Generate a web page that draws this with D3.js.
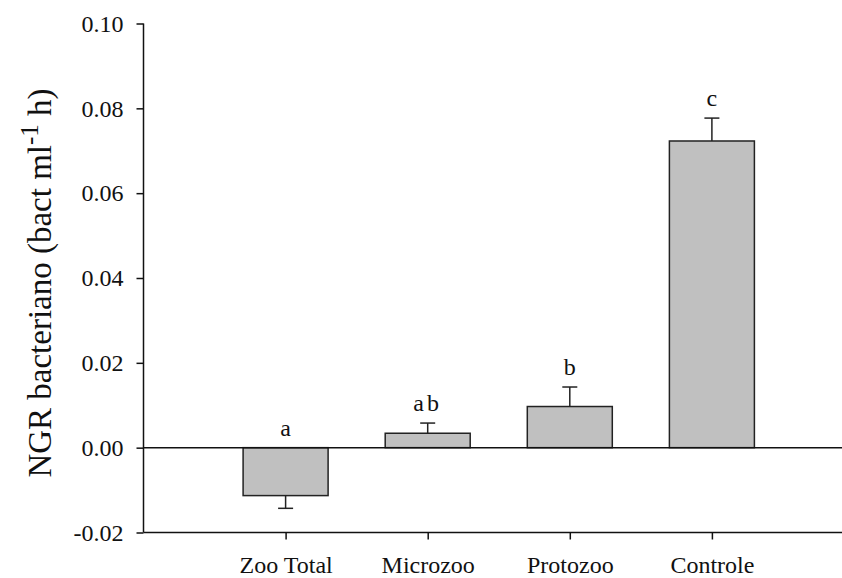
<!DOCTYPE html>
<html>
<head>
<meta charset="utf-8">
<script src="https://cdn.jsdelivr.net/npm/d3@7"></script>
<style>
  body { margin: 0; background: #fff; }
  svg text { font-family: "Liberation Serif", "Times New Roman", serif; fill: #111; }
</style>
</head>
<body>
<div id="chart"></div>
<script>
// NGR bacteriano bar chart

const categories = ["Zoo Total", "Microzoo", "Protozoo", "Controle"];
const values = [-0.0113, 0.0034, 0.0097, 0.0723];
const errors = [0.0030, 0.0024, 0.0046, 0.0054];
const groupLabels = ["a", "ab", "b", "c"];
const yTicks = [-0.02, 0.00, 0.02, 0.04, 0.06, 0.08, 0.10];

const W = 842, H = 578;
const plotLeft = 143.5, plotTop = 23.5, plotBottom = 532.5, plotRight = 854;
const serif = "'Liberation Serif', 'Times New Roman', serif";

const svg = d3.select("#chart").append("svg")
    .attr("width", W)
    .attr("height", H);

const x = d3.scalePoint()
    .domain(categories)
    .range([plotLeft, plotRight])
    .padding(1);

const y = d3.scaleLinear()
    .domain([-0.02, 0.10])
    .range([plotBottom, plotTop]);

const barW = 85;

// Bars
svg.selectAll("rect.bar")
    .data(categories)
    .enter()
    .append("rect")
    .attr("class", "bar")
    .attr("x", d => x(d) - barW / 2)
    .attr("y", (d, i) => y(Math.max(0, values[i])))
    .attr("width", barW)
    .attr("height", (d, i) => Math.abs(y(values[i]) - y(0)))
    .attr("fill", "#c0c0c0")
    .attr("stroke", "#222")
    .attr("stroke-width", 1.5);

// Error bars (one-sided, away from zero)
categories.forEach((c, i) => {
    const v = values[i];
    const end = v >= 0 ? v + errors[i] : v - errors[i];
    const g = svg.append("g").attr("stroke", "#222").attr("stroke-width", 1.5);
    g.append("line")
        .attr("x1", x(c)).attr("x2", x(c))
        .attr("y1", y(v)).attr("y2", y(end));
    g.append("line")
        .attr("x1", x(c) - 7.5).attr("x2", x(c) + 7.5)
        .attr("y1", y(end)).attr("y2", y(end));

    const labelTop = Math.max(0, end);
    svg.append("text")
        .attr("x", x(c))
        .attr("y", y(labelTop) - 12)
        .attr("text-anchor", "middle")
        .style("font-family", serif)
        .style("font-size", "24px")
        .style("letter-spacing", groupLabels[i].length > 1 ? "3px" : null)
        .text(groupLabels[i]);
});

// Zero line
svg.append("line")
    .attr("x1", plotLeft).attr("x2", W)
    .attr("y1", y(0)).attr("y2", y(0))
    .attr("stroke", "#111")
    .attr("stroke-width", 1.5);

// Y axis
const yAxis = svg.append("g")
    .attr("transform", `translate(${plotLeft},0)`)
    .call(d3.axisLeft(y).tickValues(yTicks)
        .tickFormat(d => d3.format(".2f")(d).replace("\u2212", "-"))
        .tickSize(7).tickPadding(13))
    .attr("font-family", serif)
    .attr("font-size", 24);
yAxis.select(".domain").attr("stroke", "#111").attr("stroke-width", 1.5).attr("d", `M0,${plotTop}V${plotBottom}`);
yAxis.selectAll(".tick line").attr("stroke", "#111").attr("stroke-width", 1.5);
yAxis.selectAll(".tick text").style("font-family", serif).attr("fill", "#111");

// X axis
const xAxis = svg.append("g")
    .attr("transform", `translate(0,${plotBottom})`)
    .call(d3.axisBottom(x).tickSize(7).tickPadding(16))
    .attr("font-family", serif)
    .attr("font-size", 24);
xAxis.select(".domain").attr("stroke", "#111").attr("stroke-width", 1.5).attr("d", `M${plotLeft},0H${W}`);
xAxis.selectAll(".tick line").attr("stroke", "#111").attr("stroke-width", 1.5);
xAxis.selectAll(".tick text").style("font-family", serif).attr("fill", "#111");

// Y title
const title = svg.append("text")
    .attr("transform", `translate(51,283) rotate(-90)`)
    .attr("text-anchor", "middle")
    .style("font-family", serif)
    .style("font-size", "33px");
title.append("tspan").text("NGR bacteriano (bact ml");
title.append("tspan").attr("dy", -13).style("font-size", "25px").text("-1");
title.append("tspan").attr("dy", 13).text(" h)");
</script>
</body>
</html>
